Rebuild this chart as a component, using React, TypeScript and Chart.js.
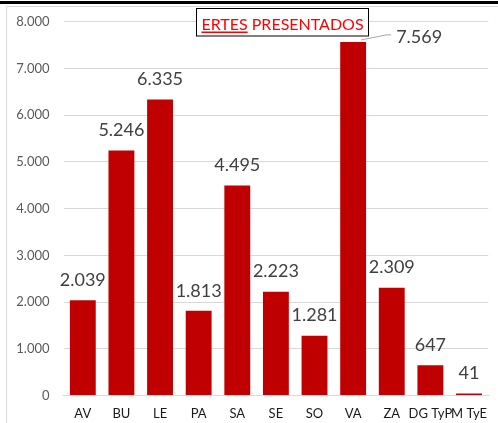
import React, { useEffect, useRef } from 'react';
import { Chart, registerables } from 'chart.js';

Chart.register(...registerables);

const categories = ['AV', 'BU', 'LE', 'PA', 'SA', 'SE', 'SO', 'VA', 'ZA', 'DG TyP', 'M TyE'];
const values = [2039, 5246, 6335, 1813, 4495, 2223, 1281, 7569, 2309, 647, 41];
const yMin = 0;
const yMax = 8000;
const yStep = 1000;
const titleUnderlined = 'ERTES';
const titleRest = ' PRESENTADOS';

const FONT = 'Lato, "Open Sans", sans-serif';
const BAR = '#C00000';

const fmt = (n: number) => String(Math.round(n)).replace(/\B(?=(\d{3})+(?!\d))/g, '.');

// label displacement (VA label moved to the right, with a leader line)
const labelShift: Record<number, { dx: number; dy: number }> = { 7: { dx: 66, dy: 15 } };

const decor = {
  id: 'decor',
  beforeDraw(chart: any) {
    const ctx = chart.ctx;
    ctx.save();
    ctx.fillStyle = '#ffffff';
    ctx.fillRect(0, 0, chart.width, chart.height);
    ctx.fillStyle = '#000000';
    ctx.fillRect(0, 1, chart.width, 3);
    ctx.strokeStyle = '#d9d9d9';
    ctx.lineWidth = 1;
    ctx.beginPath();
    ctx.moveTo(6.5, chart.height);
    ctx.lineTo(6.5, 6.5);
    ctx.lineTo(chart.width, 6.5);
    ctx.stroke();
    ctx.restore();
  },
  afterDatasetsDraw(chart: any) {
    const ctx = chart.ctx;
    const meta = chart.getDatasetMeta(0);
    ctx.save();
    ctx.font = `18px ${FONT}`;
    ctx.fillStyle = '#404040';
    ctx.textAlign = 'center';
    ctx.textBaseline = 'middle';
    meta.data.forEach((el: any, i: number) => {
      const s = labelShift[i] || { dx: 0, dy: 0 };
      const x = el.x + s.dx;
      const y = el.y - 20 + s.dy;
      const txt = fmt(values[i]);
      if (labelShift[i]) {
        const w = ctx.measureText(txt).width;
        ctx.strokeStyle = '#a6a6a6';
        ctx.lineWidth = 1;
        ctx.beginPath();
        ctx.moveTo(el.x + 8, el.y - 2);
        ctx.lineTo(x - w / 2 - 10, y - 2);
        ctx.lineTo(x - w / 2 - 5, y - 2);
        ctx.stroke();
      }
      ctx.fillText(txt, x, y);
    });
    ctx.restore();
  },
  afterDraw(chart: any) {
    const ctx = chart.ctx;
    ctx.save();
    const bx = 196.5, by = 8.5, bw = 172, bh = 27.5;
    ctx.fillStyle = '#ffffff';
    ctx.fillRect(bx, by, bw, bh);
    ctx.strokeStyle = '#000000';
    ctx.lineWidth = 1;
    ctx.strokeRect(bx, by, bw, bh);
    ctx.font = `16px ${FONT}`;
    ctx.fillStyle = '#ff0000';
    ctx.textBaseline = 'alphabetic';
    const w1 = ctx.measureText(titleUnderlined).width;
    const w2 = ctx.measureText(titleRest).width;
    const tx = bx + bw / 2 - (w1 + w2) / 2;
    const ty = 29.5;
    ctx.textAlign = 'left';
    ctx.fillText(titleUnderlined, tx, ty);
    ctx.fillText(titleRest, tx + w1, ty);
    ctx.fillRect(tx, ty + 2, w1, 1.5);
    ctx.restore();
  },
};

export default function App() {
  const ref = useRef<HTMLCanvasElement | null>(null);
  useEffect(() => {
    document.body.style.margin = '0';
    const chart = new Chart(ref.current as HTMLCanvasElement, {
      type: 'bar',
      data: {
        labels: categories,
        datasets: [
          {
            data: values,
            backgroundColor: BAR,
            borderWidth: 0,
            barPercentage: 0.67,
            categoryPercentage: 1,
          },
        ],
      },
      options: {
        responsive: false,
        animation: false,
        devicePixelRatio: 1,
        layout: { padding: { top: 19.5, left: 0, right: 0, bottom: 0 } },
        plugins: { legend: { display: false }, tooltip: { enabled: false }, title: { display: false } },
        scales: {
          x: {
            grid: { display: false, drawTicks: false },
            border: { display: true, color: '#d9d9d9', width: 1 },
            ticks: {
              autoSkip: false,
              maxRotation: 0,
              minRotation: 0,
              padding: 11,
              color: '#1a1a1a',
              font: { family: FONT, size: 13 },
            },
            afterFit: (s: any) => {
              s.height = 27.5;
            },
          },
          y: {
            min: yMin,
            max: yMax,
            grid: { color: '#d9d9d9', drawTicks: false },
            border: { display: false },
            ticks: {
              stepSize: yStep,
              padding: 14,
              color: '#595959',
              font: { family: FONT, size: 13 },
              callback: (v: any) => fmt(Number(v)),
            },
            afterFit: (s: any) => {
              s.width = 63.5;
            },
          },
        },
      },
      plugins: [decor],
    });
    return () => chart.destroy();
  }, []);
  return (
    <div style={{ position: 'absolute', left: 0, top: 0, width: 498, height: 423 }}>
      <canvas ref={ref} width={498} height={423} />
    </div>
  );
}
